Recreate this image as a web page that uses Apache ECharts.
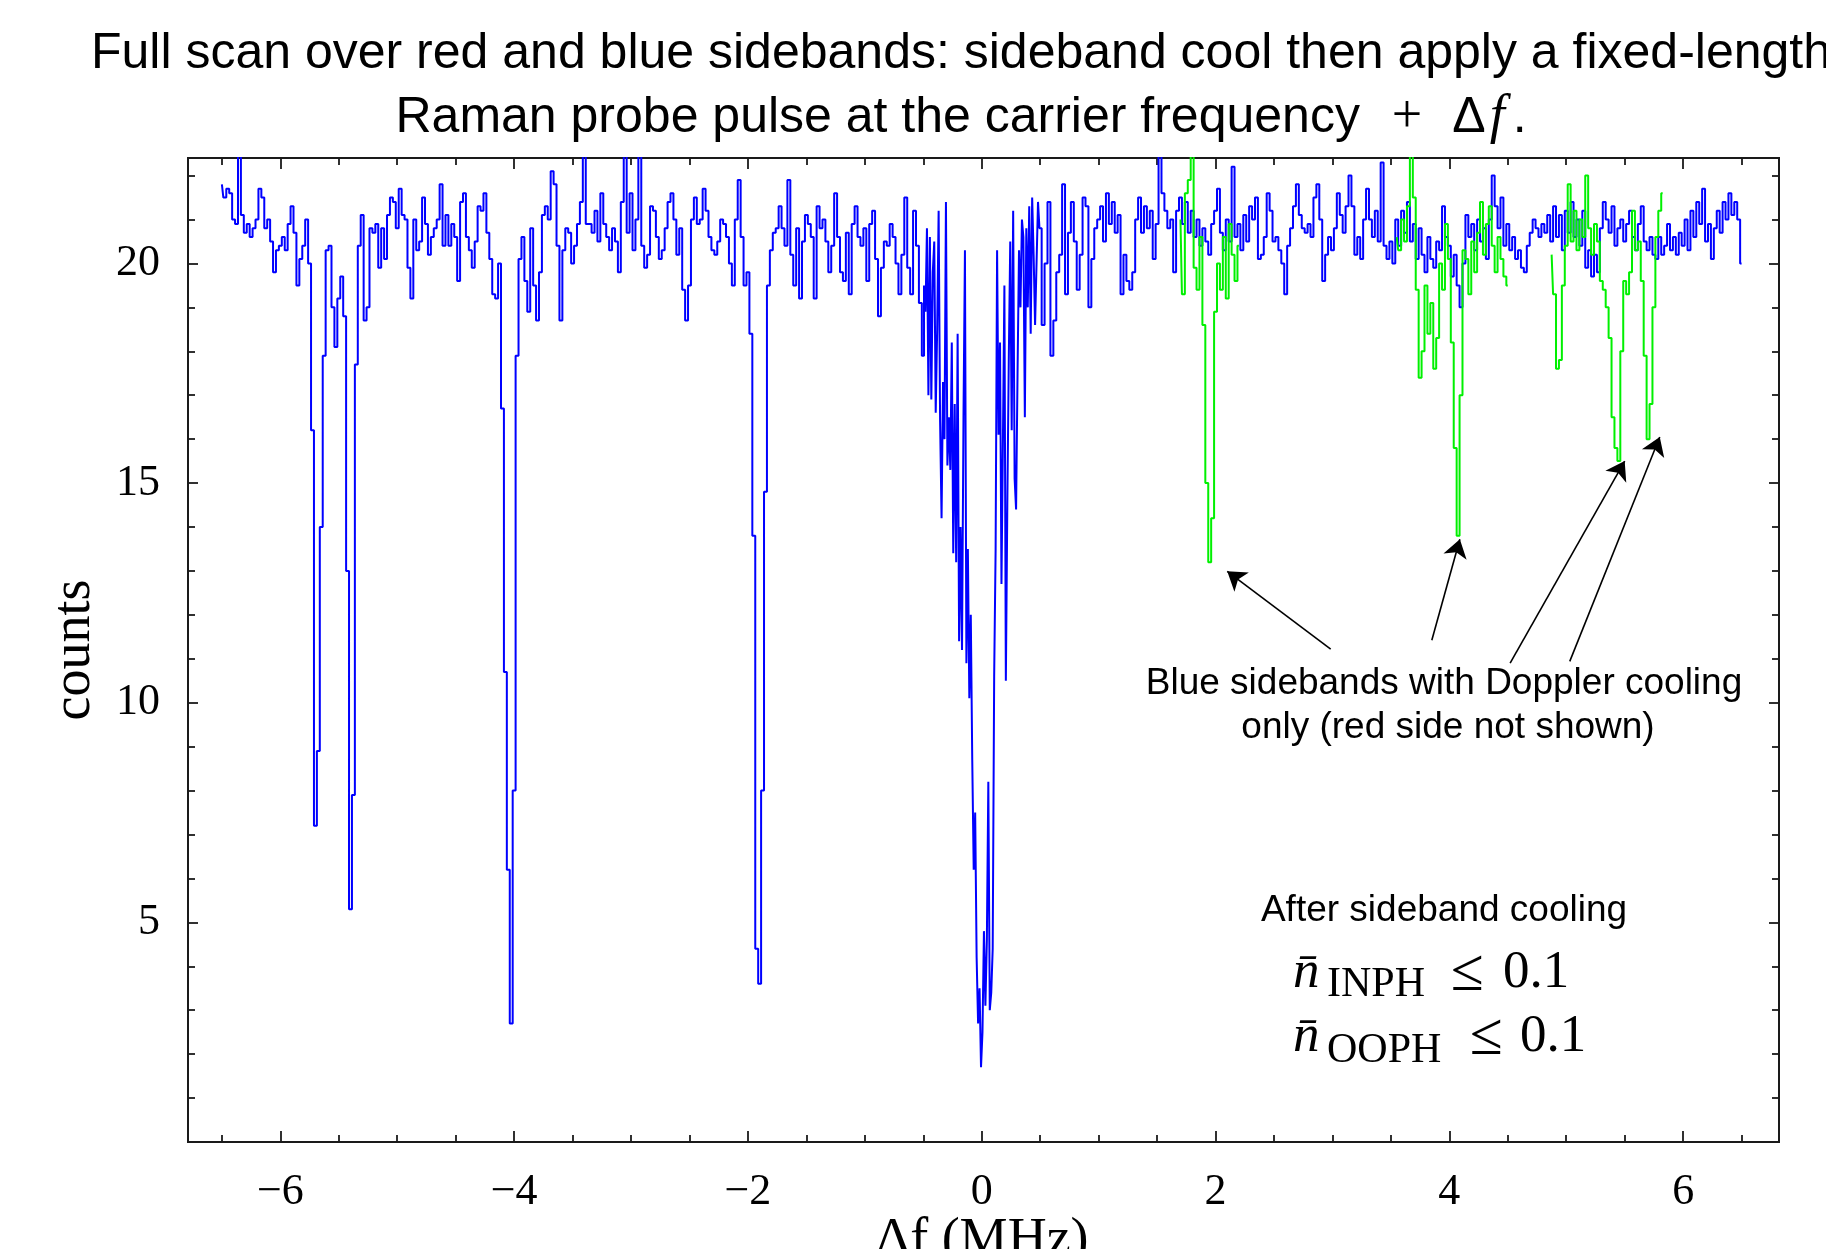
<!DOCTYPE html>
<html>
<head>
<meta charset="utf-8">
<script src="https://cdn.jsdelivr.net/npm/echarts@6.0.0/dist/echarts.min.js"></script>
<style>
  html, body { margin: 0; padding: 0; background: #fff; }
  #chart { width: 1826px; height: 1249px; }
</style>
</head>
<body>
<div id="chart"></div>
<script>
// after sideband cooling: scan sampled every 25 kHz, finer (12.5 kHz) over the carrier
const blueLeftStart = -6.5;     // -6.5 .. -0.525 MHz, step 0.025
const blueCarrierStart = -0.5;  // -0.5 .. 0.5 MHz, step 0.0125
const blueRightStart = 0.525;   // 0.525 .. 6.5 MHz, step 0.025

const blueLeftCounts = [
  21.8, 21.5, 21.7, 21.6, 21.0, 20.9, 22.6, 21.1, 20.7, 20.9,
  20.6, 20.8, 21.0, 21.7, 21.5, 20.8, 21.0, 20.5, 19.8, 20.3,
  20.4, 20.6, 20.3, 20.9, 21.3, 20.7, 19.5, 20.1, 20.4, 21.0,
  20.0, 16.2, 7.2, 8.9, 14.0, 17.9, 20.3, 20.4, 19.0, 18.1,
  19.2, 19.7, 18.8, 13.0, 5.3, 7.9, 17.7, 20.4, 21.1, 18.7,
  19.0, 20.8, 20.7, 20.9, 19.9, 20.8, 20.1, 21.1, 21.5, 21.4,
  20.8, 21.7, 21.1, 21.0, 19.9, 19.2, 21.0, 20.3, 20.5, 21.5,
  20.9, 20.2, 20.6, 20.8, 21.0, 21.8, 20.4, 21.1, 20.4, 20.9,
  20.6, 19.6, 21.4, 21.6, 20.6, 20.3, 19.9, 20.5, 21.3, 21.2,
  21.6, 20.7, 20.1, 19.3, 19.2, 20.0, 16.7, 10.7, 6.2, 2.7,
  8.0, 17.9, 20.1, 20.6, 19.6, 18.9, 20.8, 19.5, 18.7, 19.8,
  21.1, 21.3, 21.0, 22.1, 21.8, 20.4, 18.7, 20.3, 20.8, 20.7,
  20.0, 20.4, 20.9, 21.4, 22.6, 20.9, 20.9, 20.7, 21.2, 20.5,
  21.6, 20.9, 20.6, 20.3, 20.8, 20.5, 19.8, 21.4, 22.6, 20.7,
  21.6, 20.3, 21.0, 22.6, 20.4, 19.9, 20.2, 21.3, 21.2, 20.6,
  20.1, 20.3, 20.8, 21.4, 21.6, 21.0, 20.2, 20.8, 19.4, 18.7,
  19.5, 21.0, 21.5, 20.9, 21.0, 21.7, 21.2, 20.6, 20.3, 20.2,
  20.5, 21.0, 20.9, 20.6, 20.0, 19.5, 21.0, 21.9, 20.6, 19.5,
  19.8, 18.4, 13.8, 4.4, 3.6, 8.0, 14.8, 19.5, 20.3, 20.7,
  20.8, 21.3, 20.8, 20.4, 21.9, 20.2, 19.5, 20.8, 19.2, 20.5,
  21.1, 20.9, 20.6, 19.2, 21.3, 20.8, 21.0, 20.5, 19.8, 20.4,
  21.6, 20.6, 19.8, 19.6, 20.7, 19.3, 20.9, 21.3, 20.6, 20.4,
  20.8, 19.6, 20.9, 21.2, 20.1, 18.8, 19.9, 20.5, 20.4, 20.9,
  20.6, 20.0, 19.3, 20.2, 21.5, 19.9, 19.3, 21.2, 20.4, 19.1
];

const blueCarrierCounts = [
  17.9, 19.5, 18.9, 20.8, 17.0, 20.6, 16.9, 19.8, 20.5, 16.6,
  18.5, 21.2, 16.4, 14.2, 17.3, 16.0, 21.4, 15.4, 16.5, 15.3,
  18.2, 13.4, 16.8, 13.2, 18.4, 11.4, 14.0, 11.2, 16.5, 20.3,
  10.9, 13.5, 10.1, 12.0, 8.7, 6.2, 7.5, 4.2, 2.7, 3.5,
  1.7, 2.5, 4.8, 3.1, 4.6, 8.2, 3.0, 3.4, 4.4, 10.6,
  13.5, 20.3, 16.1, 18.2, 12.7, 16.0, 19.5, 10.5, 14.5, 17.8,
  20.5, 16.2, 21.2, 15.1, 14.4, 17.5, 20.3, 19.0, 21.0, 20.6,
  16.5, 20.8, 19.0, 21.3, 18.4, 21.5, 20.2, 18.6, 20.0, 21.4,
  20.8
];

const blueRightCounts = [
  18.6, 20.0, 21.4, 17.9, 18.7, 19.8, 20.2, 21.8, 19.3,
  20.7, 21.4, 20.5, 19.4, 20.2, 21.5, 21.3, 19.0, 20.1, 20.8,
  21.0, 21.3, 20.5, 21.6, 20.9, 21.4, 20.7, 21.1, 19.3, 20.2,
  19.6, 19.4, 19.8, 21.0, 21.5, 20.7, 21.3, 20.8, 21.2, 20.1,
  20.9, 22.5, 21.6, 21.2, 20.8, 21.0, 19.8, 21.2, 21.5, 20.9,
  21.4, 20.7, 21.2, 20.6, 21.0, 20.4, 20.8, 20.5, 20.2, 20.9,
  21.2, 21.7, 20.7, 20.3, 21.0, 20.5, 22.2, 20.6, 20.9, 20.3,
  21.1, 20.5, 21.3, 21.0, 21.5, 20.1, 20.2, 20.6, 21.6, 21.2,
  20.5, 20.6, 20.3, 20.0, 19.3, 20.4, 20.8, 21.3, 21.8, 21.1,
  20.8, 20.7, 20.9, 20.6, 21.5, 21.8, 21.0, 19.6, 20.2, 20.6,
  20.3, 20.8, 21.6, 21.1, 20.7, 21.3, 22.0, 21.3, 20.2, 20.6,
  20.1, 21.0, 21.7, 21.0, 20.6, 21.2, 20.5, 22.3, 20.4, 20.1,
  20.5, 20.0, 21.0, 20.4, 21.2, 20.7, 21.4, 20.5, 20.9, 20.1,
  20.8, 20.2, 19.8, 20.6, 20.1, 19.9, 20.5, 20.3, 21.3, 20.6,
  20.4, 19.7, 20.2, 19.5, 19.0, 20.0, 21.1, 20.6, 20.9, 20.3,
  21.0, 20.5, 20.8, 20.1, 21.0, 22.0, 21.3, 20.8, 21.5, 20.4,
  20.9, 20.3, 20.6, 20.1, 20.3, 19.9, 19.8, 20.4, 20.7, 21.0,
  20.8, 20.6, 20.9, 20.7, 21.1, 20.5, 21.3, 20.6, 21.1, 20.3,
  21.2, 20.7, 21.4, 20.6, 21.0, 20.4, 21.2, 19.9, 20.3, 19.7,
  20.2, 19.8, 20.8, 21.4, 21.0, 20.7, 21.3, 20.4, 20.8, 21.0,
  20.5, 20.9, 21.2, 20.6, 20.3, 20.9, 21.3, 20.5, 20.3, 20.6,
  20.2, 20.1, 20.6, 20.2, 20.4, 20.9, 20.3, 20.6, 20.2, 20.7,
  20.4, 21.0, 20.3, 21.2, 20.6, 21.4, 20.9, 21.7, 20.5, 20.9,
  20.1, 20.8, 21.2, 20.7, 21.4, 21.0, 21.6, 21.1, 21.4, 21.0,
  20.0
];

// Doppler cooling only, blue sidebands: three scans, step 0.025 MHz
const greenStarts = [1.7, 3.55, 4.875];
const greenCountsA = [
  21.0, 19.3, 21.6, 21.9, 22.6, 19.9, 19.4, 20.6, 18.6, 15.0,
  13.2, 14.2, 18.9, 20.0, 19.4, 20.6, 19.2, 20.9, 20.2, 19.6,
  20.4
];
const greenCountsB = [
  20.6, 20.3, 21.0, 20.5, 21.3, 22.6, 21.5, 19.4, 17.4, 18.0,
  19.5, 18.4, 19.1, 17.6, 18.3, 20.0, 19.4, 20.9, 20.1, 18.2,
  15.8, 13.8, 17.0, 20.3, 20.1, 19.3, 20.5, 19.8, 20.7, 21.4,
  20.2, 20.9, 21.3, 20.4, 19.8, 20.6, 20.1, 19.7, 19.5
];
const greenCountsC = [
  20.2, 19.3, 17.6, 17.8, 19.5, 20.4, 21.8, 20.5, 21.2, 20.3,
  21.0, 20.6, 22.0, 20.8, 20.2, 20.9, 20.5, 19.6, 19.4, 19.0,
  18.3, 16.5, 15.8, 15.5, 18.0, 19.6, 19.3, 19.8, 21.2, 20.3,
  20.5, 19.6, 17.9, 16.0, 16.8, 19.0, 20.6, 21.2, 21.6
];

// axes
const xRange = [-6.79, 6.82];
const yRange = [0, 22.4];
const xMajorTicks = [-6, -4, -2, 0, 2, 4, 6];
const xMinorTicks = [-6.5, -5.5, -5, -4.5, -3.5, -3, -2.5, -1.5, -1, -0.5,
  0.5, 1, 1.5, 2.5, 3, 3.5, 4.5, 5, 5.5, 6.5];
const yMajorTicks = [5, 10, 15, 20];
const yMinorTicks = [1, 2, 3, 4, 6, 7, 8, 9, 11, 12, 13, 14, 16, 17, 18, 19, 21, 22];

// arrows: [tail, head] in data coordinates
const arrows = [
  [[2.985, 11.22], [2.10, 12.99]],
  [[3.85, 11.42], [4.09, 13.72]],
  [[4.52, 10.90], [5.50, 15.50]],
  [[5.03, 10.94], [5.80, 16.05]]
];

function toPairs(start, step, values) {
  return values.map((v, i) => [+(start + i * step).toFixed(4), v]);
}

const frameColor = '#1a1a1a';
const serif = '"Liberation Serif", "Times New Roman", serif';
const sans = '"Liberation Sans", Arial, sans-serif';

function tickAxis(position, range, ticks, len, labels) {
  const ax = {
    type: 'value',
    gridIndex: 0,
    position: position,
    min: range[0],
    max: range[1],
    axisLine: { show: false, onZero: false },
    axisTick: {
      show: true,
      inside: true,
      length: len,
      customValues: ticks,
      lineStyle: { color: frameColor, width: 1.8 }
    },
    axisLabel: { show: false },
    splitLine: { show: false }
  };
  if (labels) {
    ax.axisLabel = {
      show: true,
      customValues: labels,
      formatter: v => (v < 0 ? '\u2212' + Math.abs(v) : String(v)),
      fontFamily: serif,
      fontSize: 44,
      color: '#000',
      margin: 28
    };
  }
  return ax;
}

const blueData = toPairs(blueLeftStart, 0.025, blueLeftCounts)
  .concat(toPairs(blueCarrierStart, 0.0125, blueCarrierCounts))
  .concat(toPairs(blueRightStart, 0.025, blueRightCounts));

const chart = echarts.init(document.getElementById('chart'));

const greenSeries = greenStarts.map((s, k) => ({
  type: 'line',
  xAxisIndex: 0,
  yAxisIndex: 0,
  step: 'middle',
  showSymbol: false,
  data: toPairs(s, 0.025, [greenCountsA, greenCountsB, greenCountsC][k]),
  lineStyle: { color: '#00f000', width: 2 },
  z: 3
}));

function mathText(x, y, text, size, italic) {
  return {
    type: 'text', x: x, y: y, z: 10,
    style: {
      text: text, fontFamily: serif, fontStyle: italic ? 'italic' : 'normal',
      fontSize: size, fill: '#000', align: 'left', verticalAlign: 'middle'
    }
  };
}

function noteText(x, y, text) {
  return {
    type: 'text', x: x, y: y, z: 10,
    style: {
      text: text, fontFamily: sans, fontSize: 37, fill: '#000',
      align: 'center', verticalAlign: 'middle'
    }
  };
}

chart.setOption({
  animation: false,
  backgroundColor: '#fff',
  grid: {
    left: 188, right: 47, top: 158, bottom: 107,
    show: true, borderColor: frameColor, borderWidth: 2, backgroundColor: 'transparent'
  },
  xAxis: [
    tickAxis('bottom', xRange, xMajorTicks, 11, xMajorTicks),
    tickAxis('bottom', xRange, xMinorTicks, 7),
    tickAxis('top', xRange, xMajorTicks, 11),
    tickAxis('top', xRange, xMinorTicks, 7)
  ],
  yAxis: [
    tickAxis('left', yRange, yMajorTicks, 10, yMajorTicks),
    tickAxis('left', yRange, yMinorTicks, 7),
    tickAxis('right', yRange, yMajorTicks, 10),
    tickAxis('right', yRange, yMinorTicks, 7)
  ],
  series: [
    {
      type: 'line',
      xAxisIndex: 0,
      yAxisIndex: 0,
      step: 'middle',
      showSymbol: false,
      data: blueData,
      lineStyle: { color: '#0000ff', width: 2 },
      z: 2,
      markLine: {
        silent: true,
        symbol: ['none', 'arrow'],
        symbolSize: 18,
        label: { show: false },
        lineStyle: { color: '#000', width: 1.6, type: 'solid' },
        data: arrows.map(a => [{ coord: a[0] }, { coord: a[1] }])
      }
    }
  ].concat(greenSeries),
  graphic: [
    { type: 'text', x: 961, y: 54, z: 10, style: {
      text: 'Full scan over red and blue sidebands: sideband cool then apply a fixed-length',
      fontFamily: sans, fontSize: 50, fill: '#000', align: 'center', verticalAlign: 'middle' } },
    { type: 'text', x: 961, y: 118, z: 10, style: {
      text: 'Raman probe pulse at the carrier frequency {op|+}\u0394{it|f}.',
      fontFamily: sans, fontSize: 50, fill: '#000', align: 'center', verticalAlign: 'middle',
      rich: {
        op: { fontFamily: serif, fontSize: 54, padding: [0, 30, 0, 18] },
        it: { fontFamily: serif, fontStyle: 'italic', fontSize: 54, padding: [0, 8, 0, 4] }
      } } },
    { type: 'text', x: 75, y: 650, rotation: Math.PI / 2, z: 10, style: {
      text: 'counts', fontFamily: serif, fontSize: 54, fill: '#000',
      align: 'center', verticalAlign: 'middle' } },
    { type: 'text', x: 982, y: 1241, z: 10, style: {
      text: '\u0394f (MHz)', fontFamily: serif, fontSize: 54, fill: '#000',
      align: 'center', verticalAlign: 'middle' } },
    noteText(1444, 684, 'Blue sidebands with Doppler cooling'),
    noteText(1448, 728, 'only (red side not shown)'),
    noteText(1444, 911, 'After sideband cooling'),
    mathText(1293, 973, 'n\u0304', 53, true),
    mathText(1327, 985, 'INPH', 42, false),
    mathText(1451, 974, '\u2264', 60, false),
    mathText(1503, 973, '0.1', 53, false),
    mathText(1293, 1037, 'n\u0304', 53, true),
    mathText(1327, 1051, 'OOPH', 42, false),
    mathText(1470, 1038, '\u2264', 60, false),
    mathText(1520, 1037, '0.1', 53, false)
  ]
});
</script>
</body>
</html>
